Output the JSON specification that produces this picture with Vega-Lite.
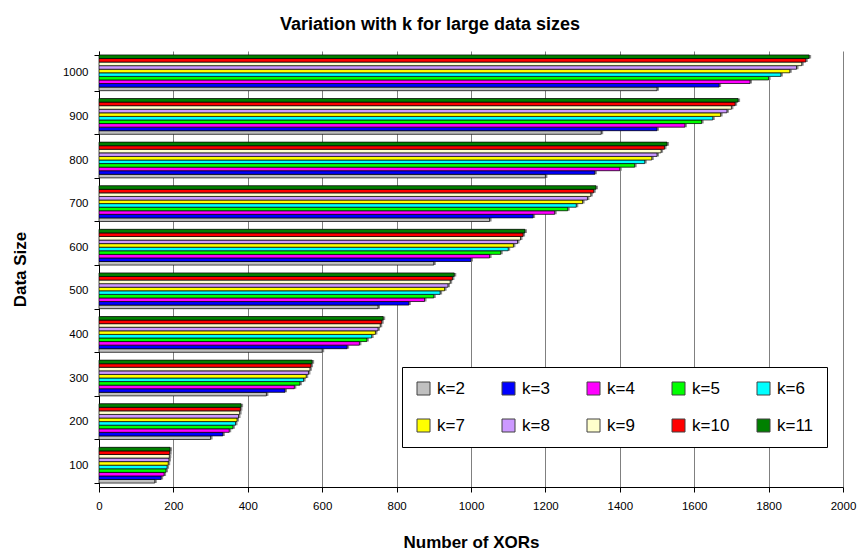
{
  "$schema": "https://vega.github.io/schema/vega-lite/v6.json",
  "width": 744,
  "height": 436,
  "autosize": {"type": "none"},
  "padding": {"left": 99, "top": 51, "right": 16, "bottom": 70},
  "background": "white",
  "config": {"view": {"stroke": null}, "font": "Liberation Sans"},
  "title": {"text": "Variation with k for large data sizes", "fontSize": 18, "fontWeight": "bold", "font": "Liberation Sans", "color": "black", "anchor": "middle", "dx": -41, "offset": 11},
  "data": {"values": [
    {"size": 100, "k": 2, "series": "k=2", "xors": 150}, {"size": 100, "k": 3, "series": "k=3", "xors": 167}, {"size": 100, "k": 4, "series": "k=4", "xors": 175}, {"size": 100, "k": 5, "series": "k=5", "xors": 180}, {"size": 100, "k": 6, "series": "k=6", "xors": 183}, {"size": 100, "k": 7, "series": "k=7", "xors": 186}, {"size": 100, "k": 8, "series": "k=8", "xors": 188}, {"size": 100, "k": 9, "series": "k=9", "xors": 189}, {"size": 100, "k": 10, "series": "k=10", "xors": 190}, {"size": 100, "k": 11, "series": "k=11", "xors": 191},
    {"size": 200, "k": 2, "series": "k=2", "xors": 300}, {"size": 200, "k": 3, "series": "k=3", "xors": 333}, {"size": 200, "k": 4, "series": "k=4", "xors": 350}, {"size": 200, "k": 5, "series": "k=5", "xors": 360}, {"size": 200, "k": 6, "series": "k=6", "xors": 367}, {"size": 200, "k": 7, "series": "k=7", "xors": 371}, {"size": 200, "k": 8, "series": "k=8", "xors": 375}, {"size": 200, "k": 9, "series": "k=9", "xors": 378}, {"size": 200, "k": 10, "series": "k=10", "xors": 380}, {"size": 200, "k": 11, "series": "k=11", "xors": 382},
    {"size": 300, "k": 2, "series": "k=2", "xors": 450}, {"size": 300, "k": 3, "series": "k=3", "xors": 500}, {"size": 300, "k": 4, "series": "k=4", "xors": 525}, {"size": 300, "k": 5, "series": "k=5", "xors": 540}, {"size": 300, "k": 6, "series": "k=6", "xors": 550}, {"size": 300, "k": 7, "series": "k=7", "xors": 557}, {"size": 300, "k": 8, "series": "k=8", "xors": 563}, {"size": 300, "k": 9, "series": "k=9", "xors": 567}, {"size": 300, "k": 10, "series": "k=10", "xors": 570}, {"size": 300, "k": 11, "series": "k=11", "xors": 573},
    {"size": 400, "k": 2, "series": "k=2", "xors": 600}, {"size": 400, "k": 3, "series": "k=3", "xors": 667}, {"size": 400, "k": 4, "series": "k=4", "xors": 700}, {"size": 400, "k": 5, "series": "k=5", "xors": 720}, {"size": 400, "k": 6, "series": "k=6", "xors": 733}, {"size": 400, "k": 7, "series": "k=7", "xors": 743}, {"size": 400, "k": 8, "series": "k=8", "xors": 750}, {"size": 400, "k": 9, "series": "k=9", "xors": 756}, {"size": 400, "k": 10, "series": "k=10", "xors": 760}, {"size": 400, "k": 11, "series": "k=11", "xors": 764},
    {"size": 500, "k": 2, "series": "k=2", "xors": 750}, {"size": 500, "k": 3, "series": "k=3", "xors": 833}, {"size": 500, "k": 4, "series": "k=4", "xors": 875}, {"size": 500, "k": 5, "series": "k=5", "xors": 900}, {"size": 500, "k": 6, "series": "k=6", "xors": 917}, {"size": 500, "k": 7, "series": "k=7", "xors": 929}, {"size": 500, "k": 8, "series": "k=8", "xors": 938}, {"size": 500, "k": 9, "series": "k=9", "xors": 944}, {"size": 500, "k": 10, "series": "k=10", "xors": 950}, {"size": 500, "k": 11, "series": "k=11", "xors": 955},
    {"size": 600, "k": 2, "series": "k=2", "xors": 900}, {"size": 600, "k": 3, "series": "k=3", "xors": 1000}, {"size": 600, "k": 4, "series": "k=4", "xors": 1050}, {"size": 600, "k": 5, "series": "k=5", "xors": 1080}, {"size": 600, "k": 6, "series": "k=6", "xors": 1100}, {"size": 600, "k": 7, "series": "k=7", "xors": 1114}, {"size": 600, "k": 8, "series": "k=8", "xors": 1125}, {"size": 600, "k": 9, "series": "k=9", "xors": 1133}, {"size": 600, "k": 10, "series": "k=10", "xors": 1140}, {"size": 600, "k": 11, "series": "k=11", "xors": 1145},
    {"size": 700, "k": 2, "series": "k=2", "xors": 1050}, {"size": 700, "k": 3, "series": "k=3", "xors": 1167}, {"size": 700, "k": 4, "series": "k=4", "xors": 1225}, {"size": 700, "k": 5, "series": "k=5", "xors": 1260}, {"size": 700, "k": 6, "series": "k=6", "xors": 1283}, {"size": 700, "k": 7, "series": "k=7", "xors": 1300}, {"size": 700, "k": 8, "series": "k=8", "xors": 1313}, {"size": 700, "k": 9, "series": "k=9", "xors": 1322}, {"size": 700, "k": 10, "series": "k=10", "xors": 1330}, {"size": 700, "k": 11, "series": "k=11", "xors": 1336},
    {"size": 800, "k": 2, "series": "k=2", "xors": 1200}, {"size": 800, "k": 3, "series": "k=3", "xors": 1333}, {"size": 800, "k": 4, "series": "k=4", "xors": 1400}, {"size": 800, "k": 5, "series": "k=5", "xors": 1440}, {"size": 800, "k": 6, "series": "k=6", "xors": 1467}, {"size": 800, "k": 7, "series": "k=7", "xors": 1486}, {"size": 800, "k": 8, "series": "k=8", "xors": 1500}, {"size": 800, "k": 9, "series": "k=9", "xors": 1511}, {"size": 800, "k": 10, "series": "k=10", "xors": 1520}, {"size": 800, "k": 11, "series": "k=11", "xors": 1527},
    {"size": 900, "k": 2, "series": "k=2", "xors": 1350}, {"size": 900, "k": 3, "series": "k=3", "xors": 1500}, {"size": 900, "k": 4, "series": "k=4", "xors": 1575}, {"size": 900, "k": 5, "series": "k=5", "xors": 1620}, {"size": 900, "k": 6, "series": "k=6", "xors": 1650}, {"size": 900, "k": 7, "series": "k=7", "xors": 1671}, {"size": 900, "k": 8, "series": "k=8", "xors": 1688}, {"size": 900, "k": 9, "series": "k=9", "xors": 1700}, {"size": 900, "k": 10, "series": "k=10", "xors": 1710}, {"size": 900, "k": 11, "series": "k=11", "xors": 1718},
    {"size": 1000, "k": 2, "series": "k=2", "xors": 1500}, {"size": 1000, "k": 3, "series": "k=3", "xors": 1667}, {"size": 1000, "k": 4, "series": "k=4", "xors": 1750}, {"size": 1000, "k": 5, "series": "k=5", "xors": 1800}, {"size": 1000, "k": 6, "series": "k=6", "xors": 1833}, {"size": 1000, "k": 7, "series": "k=7", "xors": 1857}, {"size": 1000, "k": 8, "series": "k=8", "xors": 1875}, {"size": 1000, "k": 9, "series": "k=9", "xors": 1889}, {"size": 1000, "k": 10, "series": "k=10", "xors": 1900}, {"size": 1000, "k": 11, "series": "k=11", "xors": 1909}
  ]},
  "encoding": {
    "y": {
      "field": "size", "type": "ordinal", "sort": "descending",
      "scale": {"paddingInner": 0.18, "paddingOuter": 0.09},
      "axis": {
        "title": "Data Size", "titleFontSize": 17, "titleFontWeight": "bold", "titleColor": "black", "titleX": -79, "titleAngle": -90, "titleBaseline": "middle", "titleAnchor": "middle",
        "labelFontSize": 11.5, "labelColor": "black", "labelPadding": 6, "tickSize": 5, "tickColor": "black", "tickBand": "extent",
        "domainColor": "black", "domainWidth": 1, "grid": false
      }
    },
    "yOffset": {"field": "k", "type": "ordinal", "sort": "descending"},
    "x": {
      "field": "xors", "type": "quantitative",
      "scale": {"domain": [0, 2000], "nice": false},
      "axis": {
        "title": "Number of XORs", "titleFontSize": 17, "titleFontWeight": "bold", "titleColor": "black", "titlePadding": 23,
        "values": [0, 200, 400, 600, 800, 1000, 1200, 1400, 1600, 1800, 2000], "format": "d",
        "labelFontSize": 11.5, "labelColor": "black", "labelPadding": 8, "tickSize": 5, "tickColor": "black",
        "domainColor": "black", "domainWidth": 1,
        "grid": true, "gridColor": "#808080", "gridWidth": 1, "labelFlush": false
      }
    }
  },
  "layer": [
    {"mark": {"type": "bar", "color": "#8c8c8c", "xOffset": 2}},
    {
      "mark": {"type": "bar", "stroke": "black", "strokeWidth": 0.7},
      "encoding": {
        "color": {
          "field": "series", "type": "nominal",
          "scale": {
            "domain": ["k=2", "k=3", "k=4", "k=5", "k=6", "k=7", "k=8", "k=9", "k=10", "k=11"],
            "range": ["#C0C0C0", "#0000FF", "#FF00FF", "#00FF00", "#00FFFF", "#FFFF00", "#CC99FF", "#FFFFCC", "#FF0000", "#008000"]
          },
          "legend": {
            "orient": "none", "legendX": 303, "legendY": 316, "columns": 5, "direction": "horizontal", "title": null,
            "fillColor": "white", "strokeColor": "black", "padding": 13, "cornerRadius": 0,
            "symbolType": "square", "symbolSize": 169, "symbolStrokeColor": "#404040", "symbolStrokeWidth": 1, "symbolOpacity": 1,
            "labelFontSize": 17, "labelFont": "Liberation Sans", "labelColor": "black", "labelOffset": 5,
            "columnPadding": 25, "rowPadding": 19, "gridAlign": "all"
          }
        }
      }
    }
  ]
}
